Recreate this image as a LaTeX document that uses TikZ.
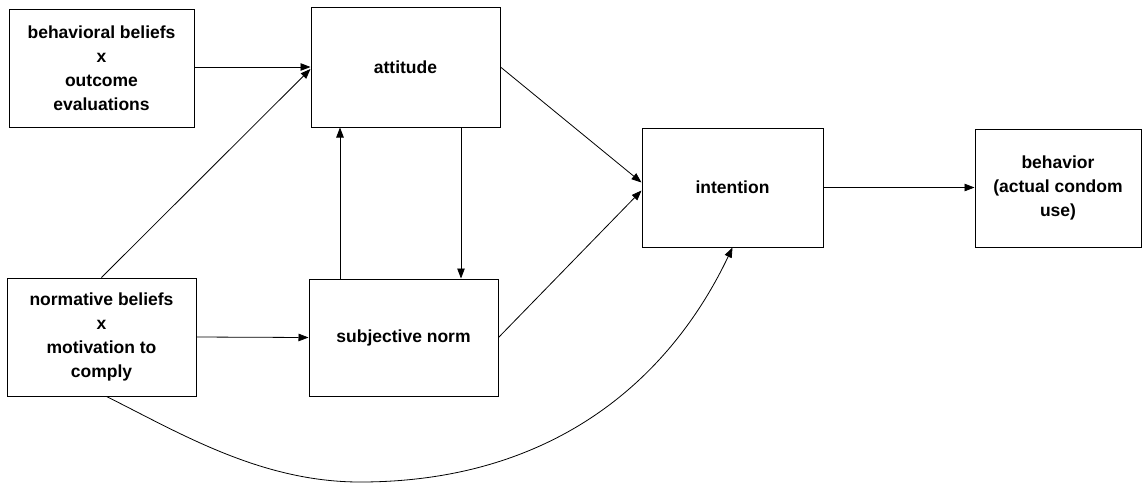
\documentclass[tikz,border=0pt]{standalone}
\usepackage{fontspec}
\setmainfont{Liberation Sans}
\usetikzlibrary{arrows.meta,calc}
\begin{document}
\begin{tikzpicture}[x=1pt,y=-1pt,
  box/.style={draw,line width=1pt,inner sep=0pt,align=center,
    font=\fontsize{17.5}{24}\selectfont\bfseries},
  conn/.style={line width=0.8pt,-{Triangle[length=10pt,width=7.5pt]}}]
\useasboundingbox (0,0) rectangle (1145,483);
\node[box,minimum width=185pt,minimum height=118pt] (bb) at (101.5,68) {behavioral beliefs\\x\\outcome\\evaluations};
\node[box,minimum width=189pt,minimum height=120pt] (att) at (405.5,67) {attitude};
\node[box,minimum width=189pt,minimum height=118pt] (nb) at (101.5,337) {normative beliefs\\x\\motivation to\\comply};
\node[box,minimum width=189pt,minimum height=117pt] (sn) at (403.5,337.5) {subjective norm};
\node[box,minimum width=181pt,minimum height=119pt] (int) at (732.5,187.5) {intention};
\node[box,minimum width=166pt,minimum height=118pt] (beh) at (1058,188) {behavior\\(actual condom\\use)};
\draw[conn] (bb.east |- att.west) -- (att.west);
\draw[conn] (nb.north) -- ($(att.west)+(0,2)$);
\draw[conn] (nb.east) -- (sn.west);
\draw[conn] (sn.north -| 340,0) -- (att.south -| 340,0);
\draw[conn] (att.south -| 461,0) -- (sn.north -| 461,0);
\draw[conn] (att.east) -- ($(int.west)+(0,-5)$);
\draw[conn] (sn.east) -- ($(int.west)+(0,3)$);
\draw[conn] (int.east) -- (int.east -| beh.west);
\coordinate (low) at (360,482);
\draw[conn] ($(nb.south)+(5,0)$) .. controls (178,432) and (260,482) .. (low)
  .. controls (550,482) and (668,383) .. (int.south);
\end{tikzpicture}
\end{document}
